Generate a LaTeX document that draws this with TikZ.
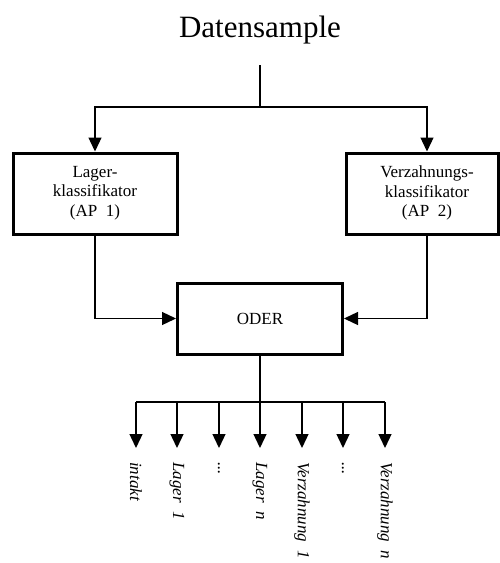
\documentclass[tikz,border=0pt]{standalone}
\usepackage{fontspec}
\setmainfont{Liberation Serif}
\usetikzlibrary{arrows.meta}
\begin{document}
\begin{tikzpicture}[x=1pt,y=-1pt,
  conn/.style={line width=1.3pt},
  arr/.style={conn,-{Triangle[length=14pt,width=13pt]}},
  box/.style={draw,line width=3pt,inner sep=0pt},
  boxtext/.style={align=center,font=\fontsize{17}{19.5}\selectfont,inner sep=0pt},
  outlbl/.style={rotate=-90,anchor=west,inner xsep=14pt,inner ysep=0pt,
                 font=\fontsize{17}{20}\selectfont\itshape}]
\useasboundingbox (0,0) rectangle (500,563);

% input
\node[font=\fontsize{31}{36}\selectfont] (title) at (260,30) {Datensample};
\coordinate (in) at (260,65);
\coordinate (split) at (260,107);

% the two classifiers
\node[box,minimum width=164pt,minimum height=81pt] (lager) at (95,193.5) {};
\node[boxtext] (lagertext) at (95,193) {Lager-\\klassifikator\\(AP\ \ 1)};
\node[box,minimum width=152pt,minimum height=81pt] (vz) at (422,193.5) {};
\node[boxtext] (vztext) at (427,193) {Verzahnungs-\\klassifikator\\(AP\ \ 2)};

% combining node
\node[box,minimum width=165pt,minimum height=71pt] (oder) at (260,318.5)
  {\fontsize{17}{20}\selectfont ODER};

% top fan-out
\draw[conn] (in) -- (split);
\draw[arr] (split) -| (lager.north);
\draw[arr] (split) -| (vztext |- vz.north);

% into the OR node
\draw[arr] (lager.south) |- (oder.west);
\draw[arr] (vztext |- vz.south) |- (oder.east);

% outputs
\coordinate (fork) at (260,402);
\node[outlbl] (o1) at (136,448) {intakt};
\node[outlbl] (o2) at (177,448) {Lager\ \ 1};
\node[outlbl] (o3) at (219,448) {...};
\node[outlbl] (o4) at (260,448) {Lager\ \ n};
\node[outlbl] (o5) at (302,448) {Verzahnung\ \ 1};
\node[outlbl] (o6) at (343,448) {...};
\node[outlbl] (o7) at (385,448) {Verzahnung\ \ n};

\draw[conn] (oder.south) -- (fork);
\draw[conn] (o1 |- fork) -- (o7 |- fork);
\foreach \k in {1,...,7} {
  \draw[arr] (o\k.west |- fork) -- (o\k.west);
}
\end{tikzpicture}
\end{document}
